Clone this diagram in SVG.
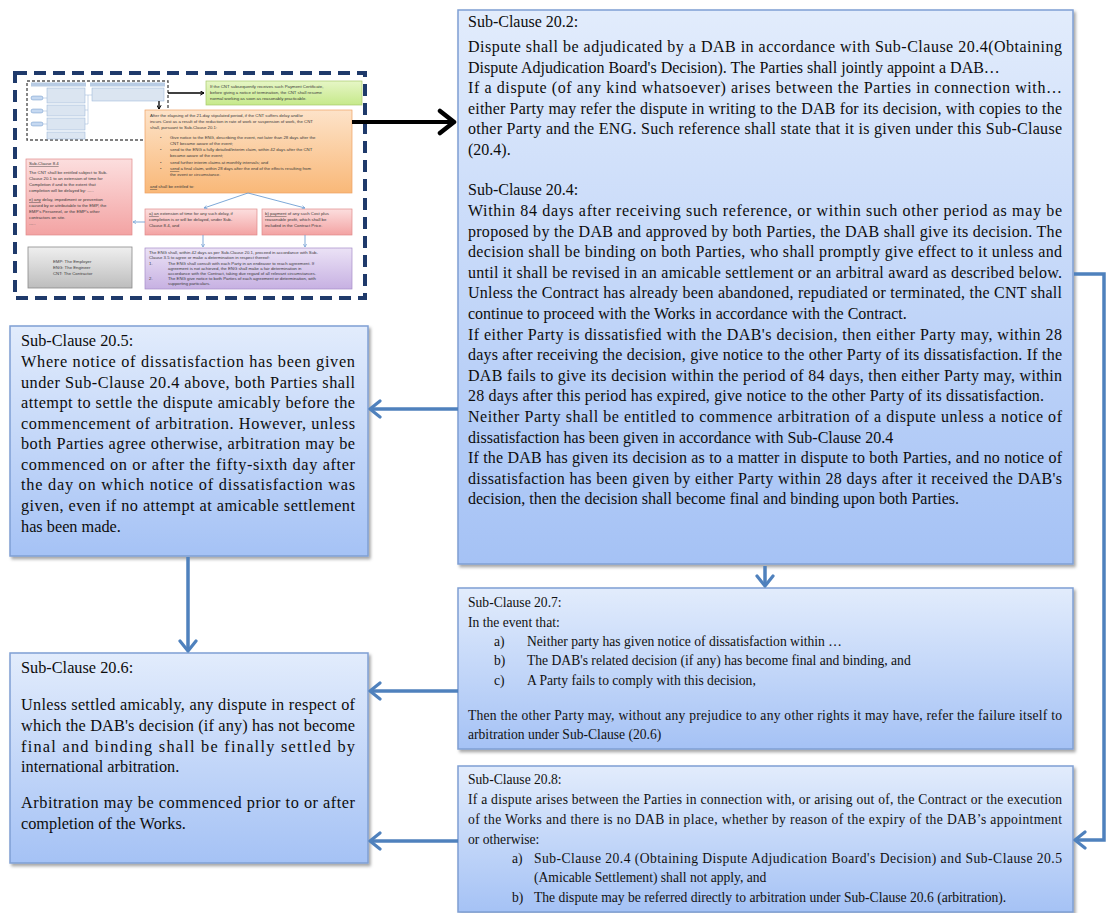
<svg xmlns="http://www.w3.org/2000/svg" width="1107" height="913" viewBox="0 0 1107 913">
<defs>
<style>
.box{fill:url(#bg);stroke:#7f9fd3;stroke-width:1.5;filter:url(#sh)}
.t{font-family:"Liberation Serif","Times New Roman",serif;font-size:16px;fill:#0d0d0d}
.tl{font-family:"Liberation Serif","Times New Roman",serif;font-size:16.3px;fill:#0d0d0d}
.t2{font-family:"Liberation Serif","Times New Roman",serif;font-size:13.6px;fill:#111}
.ts{font-family:"Liberation Sans",Arial,sans-serif;font-size:4.3px;fill:#3a3a3a}
.conn{stroke:#4f81bd;stroke-width:3.5;fill:none}
.tc{stroke:#6f9fd4;stroke-width:0.9;fill:none}
.mini{fill:#dbe5f1;stroke:#95b3d7;stroke-width:0.5}
</style>
<linearGradient id="bg" x1="0" y1="0" x2="0" y2="1"><stop offset="0" stop-color="#e2ecfc"/><stop offset="1" stop-color="#a5c2f5"/></linearGradient>
<linearGradient id="gor" x1="0" y1="0" x2="0" y2="1"><stop offset="0" stop-color="#fde3c9"/><stop offset="1" stop-color="#f9b878"/></linearGradient>
<linearGradient id="gpk" x1="0" y1="0" x2="0" y2="1"><stop offset="0" stop-color="#fcdede"/><stop offset="1" stop-color="#f3a3a3"/></linearGradient>
<linearGradient id="gpu" x1="0" y1="0" x2="0" y2="1"><stop offset="0" stop-color="#ebe2f6"/><stop offset="1" stop-color="#c7b1e2"/></linearGradient>
<linearGradient id="ggr" x1="0" y1="0" x2="0" y2="1"><stop offset="0" stop-color="#efefef"/><stop offset="1" stop-color="#bdbdbd"/></linearGradient>
<linearGradient id="ggn" x1="0" y1="0" x2="0" y2="1"><stop offset="0" stop-color="#e6f6c6"/><stop offset="1" stop-color="#c6e98a"/></linearGradient>
<filter id="sh" x="-5%" y="-5%" width="110%" height="110%"><feDropShadow dx="2" dy="2.5" stdDeviation="1.5" flood-color="#000" flood-opacity="0.35"/></filter>
<marker id="ab" viewBox="0 0 14 20" refX="12" refY="10" markerWidth="14" markerHeight="20" markerUnits="userSpaceOnUse" orient="auto"><path d="M2,2 L12,10 L2,18" fill="none" stroke="#4f81bd" stroke-width="3.2" stroke-linecap="round" stroke-linejoin="round"/></marker>
<marker id="ak" viewBox="0 0 20 28" refX="18" refY="14" markerWidth="20" markerHeight="28" markerUnits="userSpaceOnUse" orient="auto"><path d="M3,3 L17,14 L3,25" fill="none" stroke="#000" stroke-width="4.5" stroke-linecap="round" stroke-linejoin="round"/></marker>
<marker id="as" viewBox="0 0 6 6" refX="5" refY="3" markerWidth="4" markerHeight="4" markerUnits="userSpaceOnUse" orient="auto"><path d="M0.5,0.5 L5,3 L0.5,5.5" fill="none" stroke="#6f9fd4" stroke-width="1"/></marker>
<marker id="ash" viewBox="0 0 6 6" refX="5" refY="3" markerWidth="5" markerHeight="5" markerUnits="userSpaceOnUse" orient="auto"><path d="M0.5,0.5 L5,3 L0.5,5.5" fill="none" stroke="#000" stroke-width="1.2"/></marker>
</defs>
<rect width="1107" height="913" fill="#fff"/>

<g id="thumbnail">
<rect x="15" y="73" width="350" height="225" fill="#fff" stroke="#1f3a6b" stroke-width="4" stroke-dasharray="12 7"/>
<rect x="27" y="81" width="141" height="59" fill="#fff" stroke="#555" stroke-width="1.4" stroke-dasharray="3 2"/>
<rect x="31" y="82.5" width="55" height="4" fill="#b8cce4"/>
<rect x="90" y="82.5" width="75" height="4" fill="#b8cce4"/>
<rect x="31" y="96" width="12" height="4" rx="2" fill="#c6d9f1" stroke="#4f81bd" stroke-width="0.4"/>
<rect x="31" y="109" width="12" height="4" rx="2" fill="#c6d9f1" stroke="#4f81bd" stroke-width="0.4"/>
<rect x="31" y="122" width="12" height="4" rx="2" fill="#c6d9f1" stroke="#4f81bd" stroke-width="0.4"/>
<rect class="mini" x="47" y="88" width="38" height="15"/>
<rect class="mini" x="47" y="105" width="38" height="11"/>
<rect class="mini" x="47" y="118" width="38" height="12"/>
<rect class="mini" x="47" y="132" width="38" height="7"/>
<rect class="mini" x="92" y="88" width="72" height="13"/>
<path d="M43,98 H47 M43,111 H47 M43,124 H47 M85,95 H92 M85,110 H88 V95 M85,124 H88 V110" stroke="#95b3d7" stroke-width="0.5" fill="none"/>
<path d="M168,93 H204" stroke="#000" stroke-width="1.3" marker-end="url(#ash)"/>
<path d="M159,101 V109" stroke="#000" stroke-width="1.3" marker-end="url(#ash)"/>

<rect x="206" y="81" width="156" height="24" fill="url(#ggn)" stroke="#a6c96a" stroke-width="0.7"/>
<text class="ts" x="210" y="88">If the CNT subsequently receives such Payment Certificate,</text>
<text class="ts" x="210" y="94">before giving a notice of termination, the CNT shall resume</text>
<text class="ts" x="210" y="100">normal working as soon as reasonably practicable.</text>

<rect x="145" y="110" width="207" height="83" fill="url(#gor)" stroke="#eea062" stroke-width="0.7"/>
<text class="ts" x="150" y="117">After the elapsing of the 21-day stipulated period, if the CNT suffers delay and/or</text>
<text class="ts" x="150" y="123">incurs Cost as a result of the reduction in rate of work or suspension of work, the CNT</text>
<text class="ts" x="150" y="129">shall, pursuant to Sub-Clause 20.1:</text>
<text class="ts" x="160" y="139">•</text><text class="ts" x="170" y="139">Give notice to the ENG, describing the event, not later than 28 days after the</text>
<text class="ts" x="170" y="145">CNT became aware of the event;</text>
<text class="ts" x="160" y="151">•</text><text class="ts" x="170" y="151">send to the ENG a fully detailed/interim claim, within 42 days after the CNT</text>
<text class="ts" x="170" y="157">became aware of the event;</text>
<text class="ts" x="160" y="164">•</text><text class="ts" x="170" y="164">send further interim claims at monthly intervals; and</text>
<text class="ts" x="160" y="170">•</text><text class="ts" x="170" y="170"><tspan text-decoration="underline">send</tspan> a final claim, within 28 days after the end of the effects resulting from</text>
<text class="ts" x="170" y="176">the event or circumstance.</text>
<text class="ts" x="150" y="188"><tspan text-decoration="underline">and</tspan> shall be entitled to:</text>

<rect x="26" y="159" width="106" height="76" fill="url(#gpk)" stroke="#e08a8a" stroke-width="0.7"/>
<text class="ts" x="29" y="165" text-decoration="underline">Sub-Clause 8.4</text>
<text class="ts" x="29" y="174">The CNT shall be entitled subject to Sub-</text>
<text class="ts" x="29" y="180">Clause 20.1 to an extension of time for</text>
<text class="ts" x="29" y="186">Completion if and to the extent that</text>
<text class="ts" x="29" y="192">completion will be delayed by: …..</text>
<text class="ts" x="29" y="201"><tspan text-decoration="underline">e) any</tspan> delay, impediment or prevention</text>
<text class="ts" x="29" y="207">caused by or attributable to the EMP, the</text>
<text class="ts" x="29" y="213">EMP's Personnel, or the EMP's other</text>
<text class="ts" x="29" y="219">contractors on site.</text>
<text class="ts" x="29" y="225">…..</text>

<rect x="145" y="209" width="112" height="26" fill="url(#gpk)" stroke="#e08a8a" stroke-width="0.7"/>
<text class="ts" x="149" y="215"><tspan text-decoration="underline">a) an</tspan> extension of time for any such delay, if</text>
<text class="ts" x="149" y="221">completion is or will be delayed, under Sub-</text>
<text class="ts" x="149" y="227">Clause 8.4, and</text>

<rect x="262" y="209" width="90" height="26" fill="url(#gpk)" stroke="#e08a8a" stroke-width="0.7"/>
<text class="ts" x="265" y="215"><tspan text-decoration="underline">b) payment</tspan> of any such Cost plus</text>
<text class="ts" x="265" y="221">reasonable profit, which shall be</text>
<text class="ts" x="265" y="227">included in the Contract Price.</text>

<rect x="145" y="248" width="207" height="41" fill="url(#gpu)" stroke="#a58cc8" stroke-width="0.7"/>
<text class="ts" x="149" y="254">The ENG shall, within 42 days as per Sub-Clause 20.1, proceed in accordance with Sub-</text>
<text class="ts" x="149" y="259">Clause 3.5 to agree or make a determination in respect thereof:</text>
<text class="ts" x="149" y="265">1.</text><text class="ts" x="168" y="265">The ENG shall consult with each Party in an endeavor to reach agreement. If</text>
<text class="ts" x="168" y="270">agreement is not achieved, the ENG shall make a fair determination in</text>
<text class="ts" x="168" y="275">accordance with the Contract, taking due regard of all relevant circumstances.</text>
<text class="ts" x="149" y="280">2.</text><text class="ts" x="168" y="280">The ENG give notice to both Parties of each agreement or determination, with</text>
<text class="ts" x="168" y="285">supporting particulars.</text>

<rect x="28" y="247" width="104" height="41" fill="url(#ggr)" stroke="#8a8a8a" stroke-width="0.8"/>
<text class="ts" x="53" y="263">EMP: The Employer</text>
<text class="ts" x="53" y="269">ENG: The Engineer</text>
<text class="ts" x="53" y="275">CNT: The Contractor</text>

<path class="tc" d="M248,193 L204,208" marker-end="url(#as)"/>
<path class="tc" d="M248,193 L305,208" marker-end="url(#as)"/>
<path class="tc" d="M145,222 H133" marker-end="url(#as)"/>
<path class="tc" d="M203,235 V247" marker-end="url(#as)"/>
<path class="tc" d="M305,235 V247" marker-end="url(#as)"/>
</g>

<g id="node-20-2-20-4">
<rect class="box" x="458" y="10" width="615" height="554"/>
<text class="t" x="468" y="27">Sub-Clause 20.2:</text>
<text class="t" x="468" y="52" textLength="594" lengthAdjust="spacing">Dispute shall be adjudicated by a DAB in accordance with Sub-Clause 20.4(Obtaining</text>
<text class="t" x="468" y="72.6">Dispute Adjudication Board's Decision). The Parties shall jointly appoint a DAB…</text>
<text class="t" x="468" y="93.2" textLength="594" lengthAdjust="spacing">If a dispute (of any kind whatsoever) arises between the Parties in connection with…</text>
<text class="t" x="468" y="113.8" textLength="594" lengthAdjust="spacing">either Party may refer the dispute in writing to the DAB for its decision, with copies to the</text>
<text class="t" x="468" y="134.4" textLength="594" lengthAdjust="spacing">other Party and the ENG. Such reference shall state that it is given under this Sub-Clause</text>
<text class="t" x="468" y="155">(20.4).</text>
<text class="t" x="468" y="195">Sub-Clause 20.4:</text>
<text class="t" x="468" y="216" textLength="594" lengthAdjust="spacing">Within 84 days after receiving such reference, or within such other period as may be</text>
<text class="t" x="468" y="236.6" textLength="594" lengthAdjust="spacing">proposed by the DAB and approved by both Parties, the DAB shall give its decision. The</text>
<text class="t" x="468" y="257.2" textLength="594" lengthAdjust="spacing">decision shall be binding on both Parties, who shall promptly give effect to it unless and</text>
<text class="t" x="468" y="277.8" textLength="594" lengthAdjust="spacing">until it shall be revised in an amicable settlement or an arbitral award as described below.</text>
<text class="t" x="468" y="298.4" textLength="594" lengthAdjust="spacing">Unless the Contract has already been abandoned, repudiated or terminated, the CNT shall</text>
<text class="t" x="468" y="319">continue to proceed with the Works in accordance with the Contract.</text>
<text class="t" x="468" y="339.6" textLength="594" lengthAdjust="spacing">If either Party is dissatisfied with the DAB's decision, then either Party may, within 28</text>
<text class="t" x="468" y="360.2" textLength="594" lengthAdjust="spacing">days after receiving the decision, give notice to the other Party of its dissatisfaction. If the</text>
<text class="t" x="468" y="380.8" textLength="594" lengthAdjust="spacing">DAB fails to give its decision within the period of 84 days, then either Party may, within</text>
<text class="t" x="468" y="401.4" textLength="576" lengthAdjust="spacing">28 days after this period has expired, give notice to the other Party of its dissatisfaction.</text>
<text class="t" x="468" y="422" textLength="594" lengthAdjust="spacing">Neither Party shall be entitled to commence arbitration of a dispute unless a notice of</text>
<text class="t" x="468" y="442.6">dissatisfaction has been given in accordance with Sub-Clause 20.4</text>
<text class="t" x="468" y="463.2" textLength="594" lengthAdjust="spacing">If the DAB has given its decision as to a matter in dispute to both Parties, and no notice of</text>
<text class="t" x="468" y="483.8" textLength="594" lengthAdjust="spacing">dissatisfaction has been given by either Party within 28 days after it received the DAB's</text>
<text class="t" x="468" y="504.4">decision, then the decision shall become final and binding upon both Parties.</text>
</g>

<g id="node-20-5">
<rect class="box" x="10" y="326" width="358" height="230"/>
<text class="tl" x="21" y="346">Sub-Clause 20.5:</text>
<text class="tl" x="21" y="367" textLength="334" lengthAdjust="spacing">Where notice of dissatisfaction has been given</text>
<text class="tl" x="21" y="388" textLength="334" lengthAdjust="spacing">under Sub-Clause 20.4 above, both Parties shall</text>
<text class="tl" x="21" y="408" textLength="334" lengthAdjust="spacing">attempt to settle the dispute amicably before the</text>
<text class="tl" x="21" y="429" textLength="334" lengthAdjust="spacing">commencement of arbitration. However, unless</text>
<text class="tl" x="21" y="449" textLength="334" lengthAdjust="spacing">both Parties agree otherwise, arbitration may be</text>
<text class="tl" x="21" y="470" textLength="334" lengthAdjust="spacing">commenced on or after the fifty-sixth day after</text>
<text class="tl" x="21" y="490" textLength="334" lengthAdjust="spacing">the day on which notice of dissatisfaction was</text>
<text class="tl" x="21" y="511" textLength="334" lengthAdjust="spacing">given, even if no attempt at amicable settlement</text>
<text class="tl" x="21" y="532">has been made.</text>
</g>

<g id="node-20-6">
<rect class="box" x="10" y="653" width="358" height="210"/>
<text class="tl" x="21" y="673">Sub-Clause 20.6:</text>
<text class="tl" x="21" y="710" textLength="334" lengthAdjust="spacing">Unless settled amicably, any dispute in respect of</text>
<text class="tl" x="21" y="731" textLength="334" lengthAdjust="spacing">which the DAB's decision (if any) has not become</text>
<text class="tl" x="21" y="752" textLength="334" lengthAdjust="spacing">final and binding shall be finally settled by</text>
<text class="tl" x="21" y="772">international arbitration.</text>
<text class="tl" x="21" y="808" textLength="334" lengthAdjust="spacing">Arbitration may be commenced prior to or after</text>
<text class="tl" x="21" y="829">completion of the Works.</text>
</g>

<g id="node-20-7">
<rect class="box" x="458" y="588" width="615" height="161"/>
<text class="t2" x="468" y="607">Sub-Clause 20.7:</text>
<text class="t2" x="468" y="627">In the event that:</text>
<text class="t2" x="494" y="646">a)</text><text class="t2" x="527" y="646">Neither party has given notice of dissatisfaction within …</text>
<text class="t2" x="494" y="665">b)</text><text class="t2" x="527" y="665">The DAB's related decision (if any) has become final and binding, and</text>
<text class="t2" x="494" y="685">c)</text><text class="t2" x="527" y="685">A Party fails to comply with this decision,</text>
<text class="t2" x="468" y="720" textLength="594" lengthAdjust="spacing">Then the other Party may, without any prejudice to any other rights it may have, refer the failure itself to</text>
<text class="t2" x="468" y="739">arbitration under Sub-Clause (20.6)</text>
</g>

<g id="node-20-8">
<rect class="box" x="458" y="766" width="615" height="146"/>
<text class="t2" x="468" y="784">Sub-Clause 20.8:</text>
<text class="t2" x="468" y="804" textLength="594" lengthAdjust="spacing">If a dispute arises between the Parties in connection with, or arising out of, the Contract or the execution</text>
<text class="t2" x="468" y="824" textLength="594" lengthAdjust="spacing">of the Works and there is no DAB in place, whether by reason of the expiry of the DAB’s appointment</text>
<text class="t2" x="468" y="844">or otherwise:</text>
<text class="t2" x="512" y="863">a)</text><text class="t2" x="534" y="863" textLength="528" lengthAdjust="spacing">Sub-Clause 20.4 (Obtaining Dispute Adjudication Board's Decision) and Sub-Clause 20.5</text>
<text class="t2" x="534" y="882">(Amicable Settlement) shall not apply, and</text>
<text class="t2" x="512" y="902">b)</text><text class="t2" x="534" y="902">The dispute may be referred directly to arbitration under Sub-Clause 20.6 (arbitration).</text>
</g>

<g id="connectors">
<path d="M352,122 H455" stroke="#000" stroke-width="4" fill="none" marker-end="url(#ak)"/>
<path class="conn" d="M458,409 H370" marker-end="url(#ab)"/>
<path class="conn" d="M188,557 V651" marker-end="url(#ab)"/>
<path class="conn" d="M765,566 V586" marker-end="url(#ab)"/>
<path class="conn" d="M1074,274 H1104 V840 H1075" marker-end="url(#ab)"/>
<path class="conn" d="M458,691 H370" marker-end="url(#ab)"/>
<path class="conn" d="M458,841 H370" marker-end="url(#ab)"/>
</g>
</svg>
